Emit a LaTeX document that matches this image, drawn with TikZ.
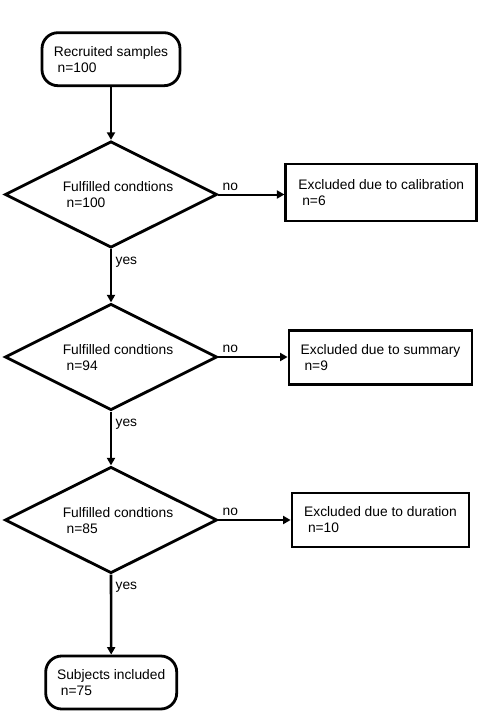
\documentclass[tikz,border=0pt]{standalone}
\usepackage{fontspec}
\setmainfont{Liberation Sans}
\usetikzlibrary{shapes.geometric,arrows.meta}

\tikzset{
  every node/.style={font=\fontsize{13.8}{16}\selectfont},
  roundbox/.style={draw, rounded corners=16, line width=2.8, inner sep=0, align=left},
  decision/.style={diamond, draw, line width=2.8, inner sep=0, minimum width=212, minimum height=106.5},
  exclbox/.style={draw, line width=2.8, inner sep=0, align=left},
  flow/.style={line width=2.6, -{Triangle[length=7.5pt,width=8pt]}},
  noflow/.style={flow, line width=2}
}

\begin{document}
\begin{tikzpicture}[x=1pt, y=-1pt]
\useasboundingbox (0,0) rectangle (479,712);

\draw
(111, 59.2) node[roundbox, minimum width=138, minimum height=53](rec){Recruited samples\\\ n=100}
(111, 194.5) node[decision](d1){}
(111, 357) node[decision](d2){}
(111, 520) node[decision](d3){}
(381.3, 192.5) node[exclbox, minimum width=191, minimum height=57](cal){Excluded due to calibration\\\ n=6}
(380.5, 357.5) node[exclbox, minimum width=183, minimum height=53.6](sum){Excluded due to summary\\\ n=9}
(380.5, 520) node[exclbox, minimum width=177, minimum height=54](dur){Excluded due to duration\\\ n=10}
(111.2, 682.5) node[roundbox, minimum width=131, minimum height=53](inc){Subjects included\\\ n=75};

% decision texts
\node[align=left] (t1) at (118, 195) {Fulfilled condtions\\\ n=100};
\node[align=left] (t2) at (118, 358) {Fulfilled condtions\\\ n=94};
\node[align=left] (t3) at (118, 521) {Fulfilled condtions\\\ n=85};

\draw[flow] (rec.south) -- (d1.north);
\draw[flow] (d1.south) -- node[below right, pos=0, yshift=-3] {yes} (d2.north);
\draw[flow] (d2.south) -- node[below right, pos=0, yshift=-3] {yes} (d3.north);
\draw[flow] (d3.south) -- node[below right, pos=0, yshift=-3] {yes} (inc.north);

\draw[noflow] (d1.east) -- node[above right, pos=0] {no} (cal.west |- d1.east);
\draw[noflow] (d2.east) -- node[above right, pos=0] {no} (sum.west |- d2.east);
\draw[noflow] (d3.east) -- node[above right, pos=0] {no} (dur.west |- d3.east);

\end{tikzpicture}
\end{document}
